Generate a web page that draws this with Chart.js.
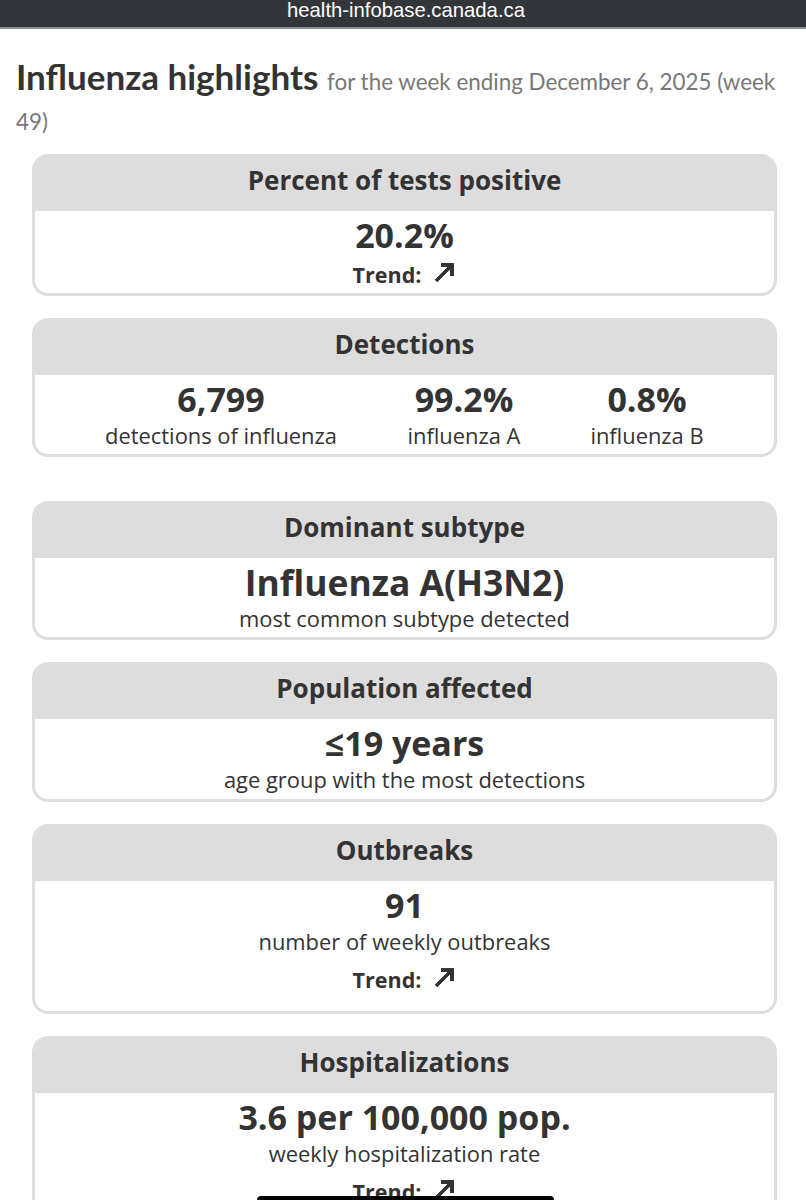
<!DOCTYPE html>
<html>
<head>
<meta charset="utf-8">
<script src="https://cdn.jsdelivr.net/npm/chart.js@4"></script>
<style>
  html, body { margin: 0; padding: 0; background: #fff; }
  body { width: 806px; height: 1200px; overflow: hidden; position: relative; color: #333; font-family: "Open Sans", sans-serif; }
  .topbar { position: absolute; left: 0; top: 0; width: 806px; height: 27px; background: #32363b; border-bottom: 2px solid #8c8e91; color: #fff; font: 20.3px/20px "Liberation Sans", sans-serif; text-align: center; text-indent: 6px; }
  h1 { position: absolute; left: 16px; top: 56px; width: 775px; margin: 0; font: 400 22.4px/40px Lato, sans-serif; color: #777; }
  h1 b { font-size: 35px; font-weight: 700; color: #333; margin-right: 3px; }
  .card { position: absolute; left: 32px; width: 745px; box-sizing: border-box; border: 3px solid #ddd; border-top: 0; border-radius: 16px; text-align: center; overflow: hidden; }
  .head { margin: 0 -3px; height: 57px; background: #ddd; font-weight: 700; font-size: 26px; line-height: 52px; }
  .value { font-weight: 700; font-size: 34px; line-height: 45px; margin-top: 2px; }
  .card:nth-child(3) .value { font-size: 35.4px; }
  .caption { font-size: 21.9px; line-height: 30px; margin-top: -1px; }
  .trend { font-weight: 700; font-size: 21.5px; line-height: 30px; margin-top: 8px; }
  .value + .trend { margin-top: 2px; }
  .arrow-box { display: inline-block; width: 24px; height: 24px; margin-left: 11px; vertical-align: -2px; }
  .stat { position: absolute; top: 57px; width: 300px; margin-left: -150px; }
  .home { position: absolute; left: 257px; top: 1196px; width: 297px; height: 8px; border-radius: 4px; background: #000; }
</style>
</head>
<body>
<div class="topbar" id="site"></div>
<h1 id="heading"></h1>
<div id="cards"></div>
<div class="home"></div>
<script>
const siteName = 'health-infobase.canada.ca';
const pageTitle = 'Influenza highlights';
const pageSubtitleLines = ['for the week ending December 6, 2025 (week', '49)'];

const cardTitles = ['Percent of tests positive', 'Detections', 'Dominant subtype', 'Population affected', 'Outbreaks', 'Hospitalizations'];
const cardValues = ['20.2%', null, 'Influenza A(H3N2)', '≤19 years', '91', '3.6 per 100,000 pop.'];
const cardCaptions = [null, null, 'most common subtype detected', 'age group with the most detections', 'number of weekly outbreaks', 'weekly hospitalization rate'];
const cardHasTrend = [true, false, false, false, true, true];

const detectionValues = ['6,799', '99.2%', '0.8%'];
const detectionLabels = ['detections of influenza', 'influenza A', 'influenza B'];

const trendLabel = 'Trend:';
// the arrow glyph, as two strokes on a unit square
const trendShaftX = [0, 1];
const trendShaftY = [0, 1];
const trendHeadX = [0.3, 1, 1];
const trendHeadY = [1, 1, 0.3];

const cardTops = [154, 318, 501, 662, 824, 1036];
const cardHeights = [142, 139, 139, 140, 190, 200];
const statCenters = [186, 429, 612];

document.getElementById('site').textContent = siteName;
document.getElementById('heading').innerHTML =
  `<b>${pageTitle}</b> ${pageSubtitleLines.map(line => `<span>${line}</span>`).join(' ')}`;

document.getElementById('cards').innerHTML = cardTitles.map((title, i) => {
  const stats = cardValues[i] === null
    ? detectionValues.map((v, k) => `
        <div class="stat" style="left:${statCenters[k]}px">
          <div class="value">${v}</div>
          <div class="caption">${detectionLabels[k]}</div>
        </div>`).join('')
    : `<div class="value">${cardValues[i]}</div>`;
  return `
    <div class="card" style="top:${cardTops[i]}px;height:${cardHeights[i]}px">
      <div class="head">${title}</div>
      ${stats}
      ${cardCaptions[i] ? `<div class="caption">${cardCaptions[i]}</div>` : ''}
      ${cardHasTrend[i] ? `<div class="trend">${trendLabel}<span class="arrow-box"><canvas class="arrow" width="24" height="24"></canvas></span></div>` : ''}
    </div>`;
}).join('');

function toPoints(xs, ys) {
  return xs.map((x, i) => ({ x: x, y: ys[i] }));
}

document.querySelectorAll('canvas.arrow').forEach(canvas => {
  new Chart(canvas, {
    type: 'line',
    data: {
      datasets: [
        { data: toPoints(trendShaftX, trendShaftY), borderColor: '#333', borderWidth: 3.5, pointRadius: 0, clip: false },
        { data: toPoints(trendHeadX, trendHeadY), borderColor: '#333', borderWidth: 3.5, pointRadius: 0, clip: false },
      ],
    },
    options: {
      responsive: false,
      animation: false,
      devicePixelRatio: 3,
      layout: { padding: 4 },
      plugins: { legend: { display: false }, tooltip: { enabled: false } },
      scales: {
        x: { type: 'linear', display: false, min: 0, max: 1 },
        y: { type: 'linear', display: false, min: 0, max: 1 },
      },
    },
  });
});
</script>
</body>
</html>
